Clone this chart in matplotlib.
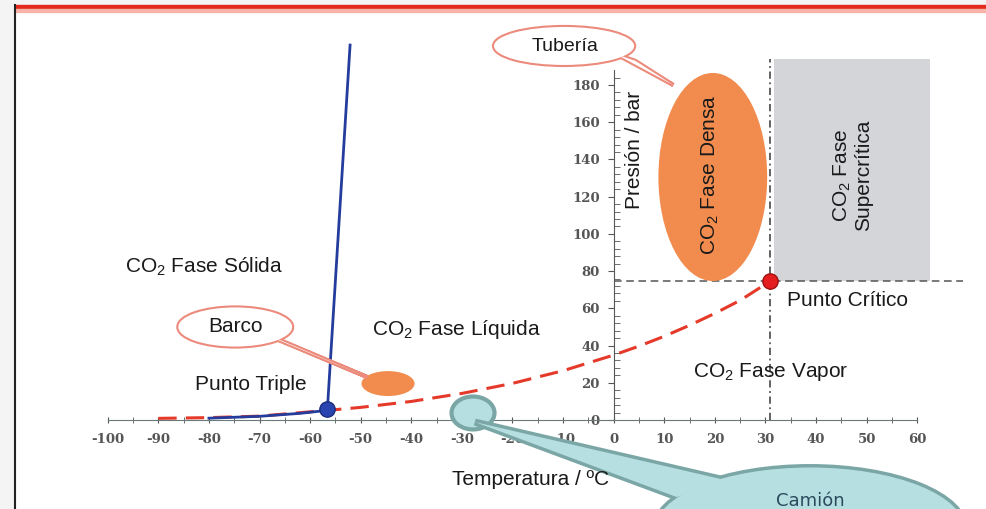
import matplotlib
matplotlib.use("Agg")
import matplotlib.pyplot as plt
import numpy as np
from matplotlib.patches import Ellipse, Polygon, Rectangle
from matplotlib.ticker import FixedLocator

plt.rcParams["font.family"] = ["Liberation Sans", "DejaVu Sans"]
plt.rcParams["mathtext.fontset"] = "custom"
plt.rcParams["mathtext.rm"] = "Liberation Sans"
plt.rcParams["mathtext.it"] = "Liberation Sans:italic"
plt.rcParams["axes.unicode_minus"] = False

# Curva de vaporizacion / sublimacion (rojo discontinuo)
temp_vap = [-90, -80, -70, -56.6, -50, -40, -30, -20, -10, 0, 5, 10, 15, 20, 25, 31]
pres_vap = [0.9, 1.3, 2.1, 5.2, 6.8, 10.0, 14.3, 19.7, 26.5, 34.9, 39.7, 45.0, 50.9, 57.3, 64.3, 74.7]

# Curva de sublimacion (azul)
temp_sub = [-80, -70, -62, -56.6]
pres_sub = [1.0, 2.0, 3.6, 5.2]

# Curva de fusion (azul)
temp_fus = [-56.6, -52.1]
pres_fus = [5.2, 201.5]

triple_point = (-56.6, 5.9)
critical_point = (31.0, 74.7)

x_ticks = [-100, -90, -80, -70, -60, -50, -40, -30, -20, -10, 0, 10, 20, 30, 40, 50, 60]
y_ticks = [0, 20, 40, 60, 80, 100, 120, 140, 160, 180]

fig = plt.figure(figsize=(9.87, 5.09), dpi=100)
ax = fig.add_axes([0, 0, 1, 1])
ax.set_xlim(-121.3, 73.8)
ax.set_ylim(-47.8, 225.7)
ax.patch.set_alpha(0)

# marco de la diapositiva
fig.patches.append(Rectangle((0, 0), 15 / 987, 1, transform=fig.transFigure,
                             color="#f4f4f4", zorder=0))
fig.patches.append(Rectangle((0, 1 - 5 / 509), 1, 5 / 509, transform=fig.transFigure,
                             color="#f4f4f4", zorder=0))
fig.patches.append(Rectangle((15 / 987, 1 - 9.5 / 509), 1, 4.5 / 509, transform=fig.transFigure,
                             color="#e32a1c", zorder=1))
fig.patches.append(Rectangle((15 / 987, 1 - 12 / 509), 1, 2.5 / 509, transform=fig.transFigure,
                             color="#f6b3a8", zorder=1))
fig.lines.append(plt.Line2D([15 / 987, 15 / 987], [0, 1 - 5 / 509], transform=fig.transFigure,
                            color="#222222", lw=1.5))

# ejes en el origen
for s in ["top", "right"]:
    ax.spines[s].set_visible(False)
ax.spines["left"].set_position(("data", 0))
ax.spines["bottom"].set_position(("data", 0))
ax.spines["left"].set_bounds(0, 188)
ax.spines["bottom"].set_bounds(-100, 60)
ax.spines["left"].set_color("#555555")
ax.spines["bottom"].set_color("#6a7a7a")

ax.set_xticks(x_ticks)
ax.set_xticklabels([str(t) for t in x_ticks])
ax.set_yticks(y_ticks)
ax.set_yticklabels([str(t) for t in y_ticks])
ax.xaxis.set_minor_locator(FixedLocator(np.arange(-95, 60, 10)))
ax.yaxis.set_minor_locator(FixedLocator([v for v in np.arange(4, 188, 4) if v % 20]))
ax.tick_params(axis="x", which="major", direction="inout", length=5, color="#555555",
               pad=7, labelsize=9.5, labelcolor="#555555")
ax.tick_params(axis="x", which="minor", direction="inout", length=4, color="#555555")
ax.tick_params(axis="y", which="major", direction="out", length=4, color="#555555",
               pad=6, labelsize=9.5, labelcolor="#555555")
ax.tick_params(axis="y", which="minor", direction="in", length=4, color="#555555")
for lab in ax.get_xticklabels() + ax.get_yticklabels():
    lab.set_family("DejaVu Serif")
    lab.set_weight("bold")

# zona supercritica
ax.add_patch(Rectangle((31.6, 74.7), 31.0, 119.3, facecolor="#d3d5d8", edgecolor="none", zorder=1))

# lineas del punto critico
ax.plot([0, 69], [critical_point[1]] * 2, color="#555555", lw=1.1, ls=(0, (5, 3)), zorder=2)
ax.plot([critical_point[0]] * 2, [0, 194], color="#555555", lw=1.3, ls=(0, (4, 2, 1, 2)), zorder=2)

# fase densa y barco
ax.add_patch(Ellipse((19.6, 130.6), 21.5, 111.8, facecolor="#f28c4e", edgecolor="none", zorder=2))
ax.add_patch(Ellipse((-44.6, 19.6), 10.5, 13.4, facecolor="#f28c4e", edgecolor="none", zorder=2))

# curvas de equilibrio
ax.plot(temp_vap, pres_vap, color="#e5392a", lw=2.2, ls=(0, (6, 3)), zorder=3)
ax.plot(temp_sub, pres_sub, color="#243c9b", lw=2, zorder=3)
ax.plot(temp_fus, pres_fus, color="#243c9b", lw=2, zorder=3)
ax.plot(*triple_point, "o", ms=11, color="#2a45b0", mec="#1b2d7a", zorder=4)
ax.plot(*critical_point, "o", ms=11, color="#e41e1e", mec="#a01010", zorder=4)


def callout(center, w, h, tail, face, edge, lw, z):
    # contorno unido de globo + cola
    e1 = Ellipse(center, w, h, facecolor=edge, edgecolor=edge, lw=lw, zorder=z)
    t1 = Polygon(tail, closed=True, facecolor=edge, edgecolor=edge, lw=lw, zorder=z)
    e2 = Ellipse(center, w, h, facecolor=face, edgecolor="none", zorder=z + 0.1)
    t2 = Polygon(tail, closed=True, facecolor=face, edgecolor="none", zorder=z + 0.1)
    for p in (e1, t1, e2, t2):
        p.set_clip_on(False)
        ax.add_patch(p)


callout((-9.8, 201), 27.7, 20.4, [(0.5, 196.5), (4.3, 193.0), (11.8, 180)],
        "white", "#ec8a7c", 3, 5)
callout((-74.8, 50.0), 22.5, 21.0, [(-68.5, 45.5), (-65.5, 42.5), (-48.7, 23.1)],
        "white", "#ec8a7c", 3, 5)

# camion
ax.add_patch(Ellipse((-27.8, 3.8), 8.5, 17.7, facecolor="#b5dfe0", edgecolor="#7ba6a6",
                     lw=3, zorder=6))
callout((38.8, -59.1), 61.3, 67.2, [(-27.4, -1.1), (12.5, -41.4), (22.0, -32.2)],
        "#b5dfe0", "#7ba6a6", 5, 7)

lab = dict(fontsize=15, color="#1a1a1a", ha="center", va="center", zorder=8)
ax.text(-81.0, 82.2, r"CO$_2$ Fase Sólida", **lab)
ax.text(-31.1, 48.9, r"CO$_2$ Fase Líquida", **lab)
ax.text(-71.7, 19.3, "Punto Triple", **lab)
ax.text(46.2, 64.5, "Punto Crítico", **lab)
ax.text(31.1, 25.8, r"CO$_2$ Fase Vapor", **lab)
ax.text(-16.5, -32.2, "Temperatura / ºC", **lab)
ax.text(4.05, 145, "Presión / bar", rotation=90, **lab)
ax.text(19.1, 132, r"CO$_2$ Fase Densa", rotation=90, **lab)
ax.text(47.2, 131.6, "CO$_2$ Fase\nSupercrítica", rotation=90, linespacing=1.1, **lab)
ax.text(-74.8, 50.0, "Barco", **lab)
ax.text(-9.6, 200.8, "Tubería", **dict(lab, fontsize=14))
ax.text(38.8, -43.3, "Camión", fontsize=13, color="#2b4a5e", ha="center", va="center",
        zorder=9, family="DejaVu Sans")

fig.savefig("out.png", dpi=100, facecolor="white")
